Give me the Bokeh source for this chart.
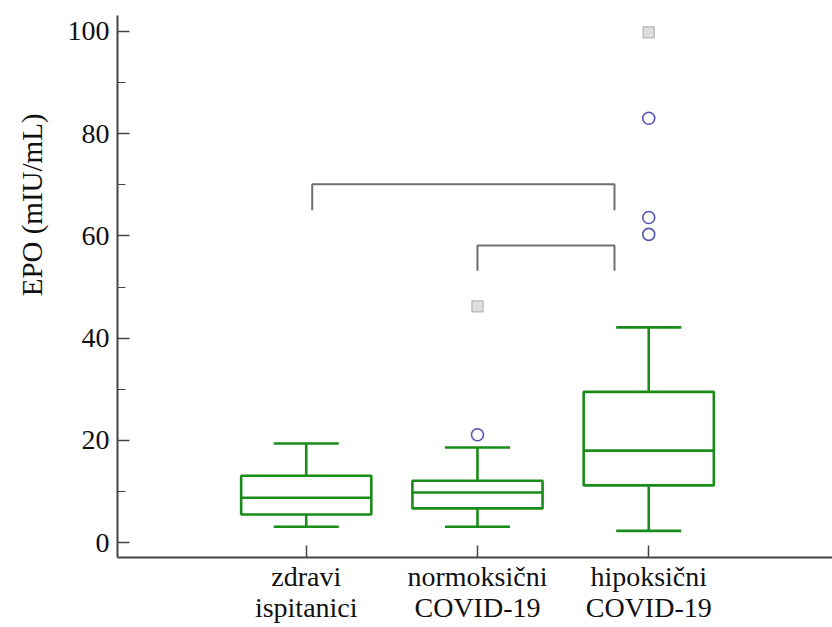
from bokeh.plotting import figure
from bokeh.models import FixedTicker, Range1d, Title
from bokeh.embed import file_html
from bokeh.resources import INLINE

# ---- data ----
groups = ["zdravi\nispitanici", "normoksični\nCOVID-19", "hipoksični\nCOVID-19"]
xpos = [1, 2, 3]
lower = [3.1, 3.1, 2.3]
q1 = [5.5, 6.7, 11.2]
median = [8.8, 9.8, 18.0]
q3 = [13.1, 12.1, 29.5]
upper = [19.4, 18.6, 42.1]

out_x = [2, 3, 3, 3]
out_y = [21.1, 83.0, 63.6, 60.3]
far_x = [2, 3]
far_y = [46.2, 99.8]

# significance brackets: (x_left, x_right, y_top, y_bottom)
br_x0 = [1.035, 2.0]
br_x1 = [2.80, 2.80]
br_top = [70.1, 58.1]
br_bot = [65.0, 53.2]

y_ticks = [0, 20, 40, 60, 80, 100]
y_minor = [10, 30, 50, 70, 90]
y_title = "EPO (mIU/mL)"

# ---- figure ----
FONT = "Liberation Serif"
GREEN = "#1a8c1a"
BOX_W = 0.76
CAP_W = 0.38

p = figure(width=832, height=627, output_backend="svg", toolbar_location=None,
           x_range=Range1d(-0.102, 4.073), y_range=Range1d(-2.9, 103.1),
           min_border_left=116, min_border_top=15, min_border_right=0,
           min_border_bottom=70)
p.outline_line_color = None
p.xgrid.visible = False
p.ygrid.visible = False

# boxes
p.quad(left=[x - BOX_W / 2 for x in xpos], right=[x + BOX_W / 2 for x in xpos],
       bottom=q1, top=q3, fill_color=None, line_color=GREEN, line_width=2.6)
# medians
p.segment(x0=[x - BOX_W / 2 for x in xpos], x1=[x + BOX_W / 2 for x in xpos],
          y0=median, y1=median, line_color=GREEN, line_width=2.6)
# whiskers
p.segment(x0=xpos, x1=xpos, y0=q3, y1=upper, line_color=GREEN, line_width=2.6)
p.segment(x0=xpos, x1=xpos, y0=q1, y1=lower, line_color=GREEN, line_width=2.6)
# caps
p.segment(x0=[x - CAP_W / 2 for x in xpos], x1=[x + CAP_W / 2 for x in xpos],
          y0=upper, y1=upper, line_color=GREEN, line_width=2.6)
p.segment(x0=[x - CAP_W / 2 for x in xpos], x1=[x + CAP_W / 2 for x in xpos],
          y0=lower, y1=lower, line_color=GREEN, line_width=2.6)

# outliers
p.scatter(out_x, out_y, marker="circle", size=12, fill_color=None,
          line_color="#5555b5", line_width=1.6)
p.scatter(far_x, far_y, marker="square", size=11, fill_color="#dedede",
          line_color="#b5b5b5", line_width=1.3)

# brackets
for i in range(len(br_x0)):
    p.line([br_x0[i], br_x0[i], br_x1[i], br_x1[i]],
           [br_bot[i], br_top[i], br_top[i], br_bot[i]],
           line_color="#707070", line_width=2)

# axes
AX = "#444444"
p.xaxis.ticker = FixedTicker(ticks=xpos)
p.xaxis.major_label_overrides = {x: g for x, g in zip(xpos, groups)}
p.xaxis.major_tick_in = 12
p.xaxis.major_tick_out = 0
p.xaxis.minor_tick_line_color = None
p.xaxis.axis_line_width = 2
p.xaxis.axis_line_color = AX
p.xaxis.major_tick_line_color = AX
p.xaxis.major_tick_line_width = 1.5
p.xaxis.major_label_standoff = 3
p.xaxis.major_label_text_font = FONT
p.xaxis.major_label_text_font_size = "28px"
p.xaxis.major_label_text_color = "#111111"
p.xaxis.major_label_text_line_height = 1.0

p.yaxis.ticker = FixedTicker(ticks=y_ticks, minor_ticks=y_minor)
p.yaxis.major_tick_in = 12
p.yaxis.major_tick_out = 0
p.yaxis.minor_tick_in = 8
p.yaxis.minor_tick_out = 0
p.yaxis.axis_line_width = 2
p.yaxis.axis_line_color = AX
p.yaxis.major_tick_line_color = AX
p.yaxis.minor_tick_line_color = AX
p.yaxis.major_tick_line_width = 1.5
p.yaxis.minor_tick_line_width = 1.2
p.yaxis.major_label_standoff = 8
p.yaxis.major_label_text_font = FONT
p.yaxis.major_label_text_font_size = "28px"
p.yaxis.major_label_text_color = "#111111"

# y-axis title, placed toward the top as in the reference
p.add_layout(Title(text=y_title, align="right", offset=98,
                   vertical_align="top", standoff=30,
                   text_font=FONT, text_font_size="29px",
                   text_font_style="normal", text_color="#111111"), "left")

open("out.html", "w").write(file_html(p, INLINE))
